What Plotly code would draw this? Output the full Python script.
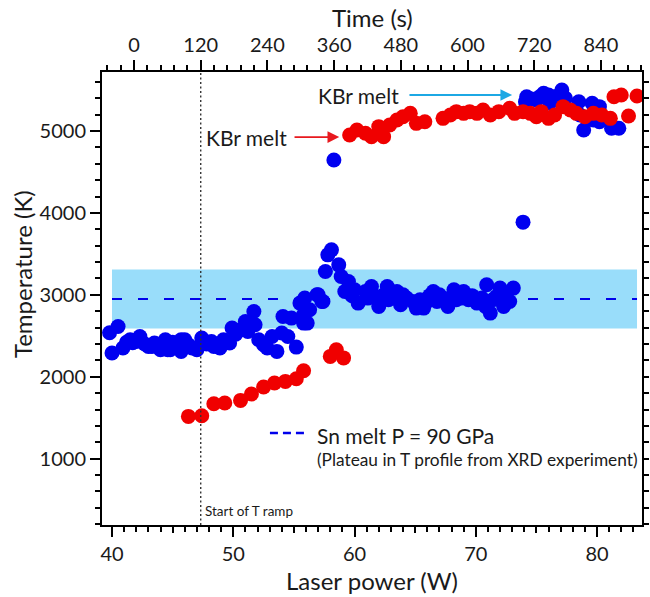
import plotly.graph_objects as go

# ---------------- data ----------------
blue_power = [39.8, 40.0, 40.5, 40.9, 41.2, 41.5, 41.7, 42.0, 42.3, 42.7, 43.0, 43.3, 43.5,
              44.0, 44.2, 44.4, 44.6, 44.8, 45.0, 45.2, 45.7, 45.7, 46.0, 46.3, 46.6, 46.8,
              47.0, 47.4, 47.8, 48.2, 48.4, 48.6, 48.9, 49.2, 49.7, 49.9, 50.2, 50.6, 51.0,
              51.2, 51.7, 51.8, 52.1, 52.5, 52.8, 53.2, 53.6, 54.0, 54.1, 54.5, 54.8, 55.2,
              55.5, 55.8, 55.8, 55.9, 56.1, 56.3, 56.9, 57.0, 57.3, 57.4, 57.6, 57.8, 58.1,
              58.3, 58.7, 58.9, 59.2, 59.5, 59.8, 60.0, 60.3, 60.9, 61.1, 61.4, 61.6, 62.0,
              62.3, 62.7, 62.8, 63.2, 63.5, 63.8, 64.0, 64.3, 64.8, 65.1, 65.4, 65.7, 66.0,
              66.2, 66.5, 66.8, 67.0, 67.3, 67.7, 68.0, 68.2, 68.4, 68.8, 69.0, 69.4, 69.7,
              70.1, 70.5, 70.8, 70.9, 71.2, 71.4, 71.7, 72.0, 72.3, 72.5, 72.8, 73.1, 73.9,
              74.1, 74.2, 74.6, 75.0, 75.3, 75.6, 76.0, 76.1, 76.6, 77.1, 77.4, 78.5, 78.6,
              78.9, 79.6, 79.7, 80.2, 80.2, 81.2, 81.8]
blue_temp = [2537, 2289, 2613, 2350, 2420, 2451, 2414, 2430, 2492, 2400, 2370, 2370, 2411,
             2329, 2400, 2451, 2329, 2329, 2420, 2390, 2451, 2309, 2451, 2390, 2350, 2350,
             2329, 2472, 2400, 2430, 2370, 2390, 2350, 2451, 2411, 2594, 2520, 2573, 2675,
             2553, 2797, 2634, 2451, 2390, 2350, 2492, 2309, 2533, 2735, 2492, 2716, 2362,
             2899, 2655, 2756, 2960, 2655, 2817, 3000, 3000, 2918, 2918, 3284, 3488, 3549,
             4646, 3366, 3223, 3040, 3162, 2990, 3061, 2899, 3040, 2960, 3101, 2979, 2857,
             2990, 3101, 2939, 2960, 3040, 2878, 3000, 2960, 2918, 2838, 2940, 2838, 2918,
             2990, 3040, 2918, 3000, 2960, 2857, 2970, 3061, 2939, 2960, 3040, 2939, 2990,
             2899, 2960, 2857, 3122, 2777, 2940, 2979, 3082, 2857, 2990, 2918, 3082, 3887,
             5357, 5418, 5390, 5378, 5420, 5460, 5439, 5338, 5420, 5500, 5399, 5357, 5195,
             5012, 5338, 5134, 5297, 5113, 5033, 5033]

red_power = [46.3, 47.4, 48.4, 49.3, 50.6, 51.5, 52.5, 53.4, 54.3, 55.2, 55.8, 58.0, 58.5,
             59.1, 59.6, 60.2, 60.9, 61.4, 62.0, 62.4, 62.9, 63.5, 64.0, 64.6, 65.1, 65.8,
             67.3, 67.9, 68.4, 69.0, 69.5, 70.1, 70.6, 71.2, 71.9, 72.8, 73.2, 73.9, 74.5,
             75.0, 75.4, 76.0, 76.5, 77.2, 77.8, 78.3, 79.0, 79.7, 80.4, 81.1, 81.4, 82.0,
             82.6, 83.3]
red_temp = [1516, 1524, 1671, 1679, 1711, 1789, 1874, 1923, 1943, 1976, 2073, 2248, 2330,
            2230, 4951, 5012, 4972, 4931, 5053, 4931, 5073, 5134, 5174, 5215, 5093, 5113,
            5154, 5195, 5236, 5215, 5236, 5215, 5256, 5195, 5236, 5277, 5215, 5236, 5215,
            5174, 5236, 5154, 5195, 5297, 5256, 5215, 5174, 5215, 5195, 5154, 5418, 5439,
            5183, 5427]

sn_melt_T = 2950          # K, dashed line
sn_melt_err = 360         # K, half-width of the shaded band
band_power = [40.0, 83.3]  # W, extent of band / dashed line
ramp_start_time = 120     # s, dotted vertical line

power_ticks = [40, 50, 60, 70, 80]
power_mid_ticks = [45, 55, 65, 75]
time_ticks = [0, 120, 240, 360, 480, 600, 720, 840]
temp_ticks = [1000, 2000, 3000, 4000, 5000]

power_range = [39.175, 83.711]
time_range = [-57.6, 913.9]
temp_range = [190, 5720]

kbr_red_arrow = dict(tail=(54.93, 4925), head=(58.74, 4925))
kbr_blue_arrow = dict(tail=(64.41, 5439), head=(73.0, 5439))

FONT = "Lato"
BLUE = "rgb(0,0,240)"
RED = "rgb(240,0,0)"
TXT = "#1a1a1a"

fig = go.Figure()

# band and Sn melt line
fig.add_shape(type="rect", xref="x", yref="y", x0=band_power[0], x1=band_power[1],
              y0=sn_melt_T - sn_melt_err, y1=sn_melt_T + sn_melt_err,
              fillcolor="rgb(153,221,250)", line_width=0, layer="below")
fig.add_trace(go.Scatter(x=band_power, y=[sn_melt_T, sn_melt_T], mode="lines",
                         line=dict(color="rgb(0,0,235)", width=2, dash="10px,16px"),
                         showlegend=False, hoverinfo="skip"))

fig.add_trace(go.Scatter(x=blue_power, y=blue_temp, mode="markers",
                         marker=dict(color=BLUE, size=15, line_width=0), showlegend=False))
fig.add_trace(go.Scatter(x=red_power, y=red_temp, mode="markers",
                         marker=dict(color=RED, size=15, line_width=0), showlegend=False))

# dummy traces to instantiate the extra axes
fig.add_trace(go.Scatter(x=[], y=[], xaxis="x2", yaxis="y2", showlegend=False))
fig.add_trace(go.Scatter(x=[], y=[], xaxis="x3", yaxis="y", showlegend=False))

# start of T ramp dotted line
fig.add_shape(type="line", xref="x2", yref="paper", x0=ramp_start_time, x1=ramp_start_time,
              y0=0, y1=1, line=dict(color="#333", width=1.4, dash="2px,2.5px"), layer="above")

# arrows
fig.add_annotation(x=kbr_red_arrow["head"][0], y=kbr_red_arrow["head"][1],
                   ax=kbr_red_arrow["tail"][0], ay=kbr_red_arrow["tail"][1],
                   xref="x", yref="y", axref="x", ayref="y", text="", showarrow=True,
                   arrowhead=2, arrowsize=1.3, arrowwidth=1.8, arrowcolor="rgb(232,25,30)")
fig.add_annotation(x=kbr_blue_arrow["head"][0], y=kbr_blue_arrow["head"][1],
                   ax=kbr_blue_arrow["tail"][0], ay=kbr_blue_arrow["tail"][1],
                   xref="x", yref="y", axref="x", ayref="y", text="", showarrow=True,
                   arrowhead=2, arrowsize=1.3, arrowwidth=1.8, arrowcolor="rgb(28,168,228)")
fig.add_annotation(x=kbr_red_arrow["tail"][0] - 0.3, y=kbr_red_arrow["tail"][1], xref="x", yref="y",
                   text="KBr melt", showarrow=False, xanchor="right", yanchor="middle",
                   font=dict(family=FONT, size=21, color=TXT))
fig.add_annotation(x=kbr_blue_arrow["tail"][0] - 0.6, y=kbr_blue_arrow["tail"][1], xref="x", yref="y",
                   text="KBr melt", showarrow=False, xanchor="right", yanchor="middle",
                   font=dict(family=FONT, size=21, color=TXT))

# legend-like key
fig.add_shape(type="line", xref="paper", yref="paper", x0=0.311, x1=0.381, y0=0.2031, y1=0.2031,
              line=dict(color="rgb(0,0,235)", width=2.5, dash="8px,5px"))
fig.add_annotation(x=0.394, y=0.1965, xref="paper", yref="paper", text="Sn melt P = 90 GPa",
                   showarrow=False, xanchor="left", yanchor="middle",
                   font=dict(family=FONT, size=21, color=TXT))
fig.add_annotation(x=0.394, y=0.1435, xref="paper", yref="paper",
                   text="(Plateau in T profile from XRD experiment)",
                   showarrow=False, xanchor="left", yanchor="middle",
                   font=dict(family=FONT, size=17.3, color=TXT))
fig.add_annotation(x=0.187, y=0.031, xref="paper", yref="paper", text="Start of T ramp",
                   showarrow=False, xanchor="left", yanchor="middle",
                   font=dict(family=FONT, size=13.5, color=TXT))

# axis titles
fig.add_annotation(x=0.5, y=-0.1236, xref="paper", yref="paper", text="Laser power (W)",
                   showarrow=False, xanchor="center", yanchor="middle",
                   font=dict(family=FONT, size=24, color=TXT))
fig.add_annotation(x=0.5, y=1.1214, xref="paper", yref="paper", text="Time (s)",
                   showarrow=False, xanchor="center", yanchor="middle",
                   font=dict(family=FONT, size=24, color=TXT))
fig.add_annotation(x=-0.148, y=0.554, xref="paper", yref="paper", text="Temperature (K)",
                   showarrow=False, xanchor="center", yanchor="middle", textangle=-90,
                   font=dict(family=FONT, size=24, color=TXT))

axis_common = dict(showgrid=False, zeroline=False, showline=True, linecolor="black",
                   linewidth=2, ticks="outside", tickcolor="black", tickwidth=1.6,
                   automargin=False)

fig.update_layout(
    width=650, height=597,
    margin=dict(l=102, r=8, t=72, b=72),
    paper_bgcolor="white", plot_bgcolor="white",
    font=dict(family=FONT, color=TXT),
    xaxis=dict(**axis_common, range=power_range, tickvals=power_ticks, ticklen=10,
               minor=dict(dtick=1, ticklen=5, ticks="outside", tickcolor="black", tickwidth=1.6),
               tickfont=dict(size=20, family=FONT)),
    xaxis2=dict(**axis_common, range=time_range, overlaying="x", side="top", anchor="y2",
                tickvals=time_ticks, ticklen=10,
                minor=dict(dtick=24, tick0=0, ticklen=5, ticks="outside", tickcolor="black", tickwidth=1.6),
                tickfont=dict(size=20, family=FONT)),
    xaxis3=dict(range=power_range, overlaying="x", side="bottom", anchor="y", automargin=False,
                showgrid=False, zeroline=False, showline=False, showticklabels=False,
                tickvals=power_mid_ticks, ticks="outside", ticklen=7, tickwidth=1.6, tickcolor="black"),
    yaxis=dict(**axis_common, range=temp_range, tickvals=temp_ticks, ticklen=10,
               minor=dict(dtick=200, ticklen=5, ticks="outside", tickcolor="black", tickwidth=1.6),
               tickfont=dict(size=20, family=FONT)),
    yaxis2=dict(**axis_common, range=temp_range, overlaying="y", side="right", anchor="x2",
                dtick=200, tick0=0, ticklen=5, showticklabels=False),
)

fig.write_html("out.html", config={"displayModeBar": False},
               post_script="document.body.style.margin='0';document.body.style.overflow='hidden';")
